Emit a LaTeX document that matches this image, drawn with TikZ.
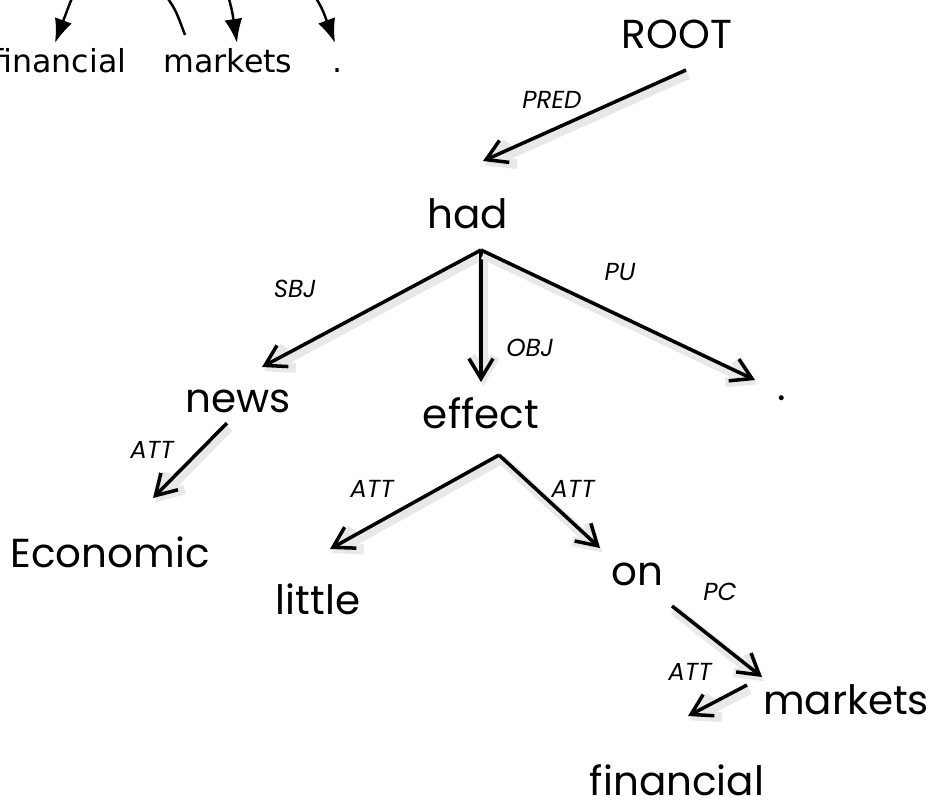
\documentclass[tikz,border=0pt]{standalone}
\usepackage{fontspec}
\setmainfont{Poppins}
\newfontfamily\fragfont{DejaVu Sans}
\usetikzlibrary{arrows.meta}
\tikzset{
  word/.style={font=\fontsize{11.5}{14}\selectfont, inner sep=0pt, anchor=base},
  rel/.style={font=\fontsize{7}{8}\selectfont\itshape, inner sep=0pt},
  dep/.style={-{Straight Barb[length=2mm,width=2.4mm]}, line width=1pt,
    preaction={draw=black!9, line width=2.8pt, transform canvas={shift={(0.6pt,-1.2pt)}}}},
  frag/.style={font=\fragfont\fontsize{9}{11}\selectfont, inner sep=0pt, anchor=base},
  fragarc/.style={-{Latex[length=2.4mm,width=1.8mm]}, line width=0.7pt},
}
\begin{document}
\begin{tikzpicture}[x=0.01cm, y=-0.01cm]
    \useasboundingbox (0,0) rectangle (946,805);
    \clip (0,0) rectangle (946,805);
    % piece of the flat arc picture, top left
    \node[frag, anchor=base east] (f-financial) at (127,72) {financial};
    \node[frag] (f-markets) at (228,72) {markets};
    \node[frag] (f-dot) at (338,72) {.};
	\draw[fragarc] (76,-12) .. controls (68,8) .. (55,43);
	\draw[line width=0.7pt] (160,-12) .. controls (175,8) .. (185,35);
	\draw[fragarc] (226,-12) .. controls (232,10) .. (237,43);
	\draw[fragarc] (310,-12) .. controls (322,8) .. (335,43);
    % the tree
    \node[word] (root) at (677,48) {ROOT};
    \node[word] (had) at (468,228) {had};
    \node[word] (news) at (238,412) {news};
    \node[word] (effect) at (481,428) {effect};
    \node[word] (dot) at (782,400) {.};
    \node[word] (economic) at (110,567) {Economic};
    \node[word] (little) at (318,614) {little};
    \node[word] (on) at (637,585) {on};
    \node[word] (markets) at (846,714) {markets};
    \node[word] (financial) at (677,795) {financial};
    % arrow ends
    \coordinate (root-out) at (686,70);
    \coordinate (had-in) at (483,161);
    \coordinate (had-out) at (481,250);
    \coordinate (news-in) at (262,367);
    \coordinate (effect-in) at (481,382);
    \coordinate (dot-in) at (755,380);
    \coordinate (news-out) at (227,423);
    \coordinate (economic-in) at (153,498);
    \coordinate (effect-out) at (499,455);
    \coordinate (little-in) at (330,549);
    \coordinate (on-in) at (600,548);
    \coordinate (on-out) at (672,606);
    \coordinate (markets-in) at (762,677);
    \coordinate (markets-out) at (747,685);
    \coordinate (financial-in) at (688,716);
	\draw[dep] (root-out) -- (had-in);
	\draw[dep] (had-out) -- (news-in);
	\draw[dep] (had-out) -- (effect-in);
	\draw[dep] (had-out) -- (dot-in);
	\draw[dep] (news-out) -- (economic-in);
	\draw[dep] (effect-out) -- (little-in);
	\draw[dep] (effect-out) -- (on-in);
	\draw[dep] (on-out) -- (markets-in);
	\draw[dep] (markets-out) -- (financial-in);
    \node[rel] (l-pred) at (552,100) {PRED};
    \node[rel] (l-sbj) at (295,289) {SBJ};
    \node[rel] (l-obj) at (530,348) {OBJ};
    \node[rel] (l-pu) at (620,272) {PU};
    \node[rel] (l-att1) at (152,450) {ATT};
    \node[rel] (l-att2) at (372,489) {ATT};
    \node[rel] (l-att3) at (573,489) {ATT};
    \node[rel] (l-pc) at (720,592) {PC};
    \node[rel] (l-att4) at (690,672) {ATT};
\end{tikzpicture}
\end{document}
